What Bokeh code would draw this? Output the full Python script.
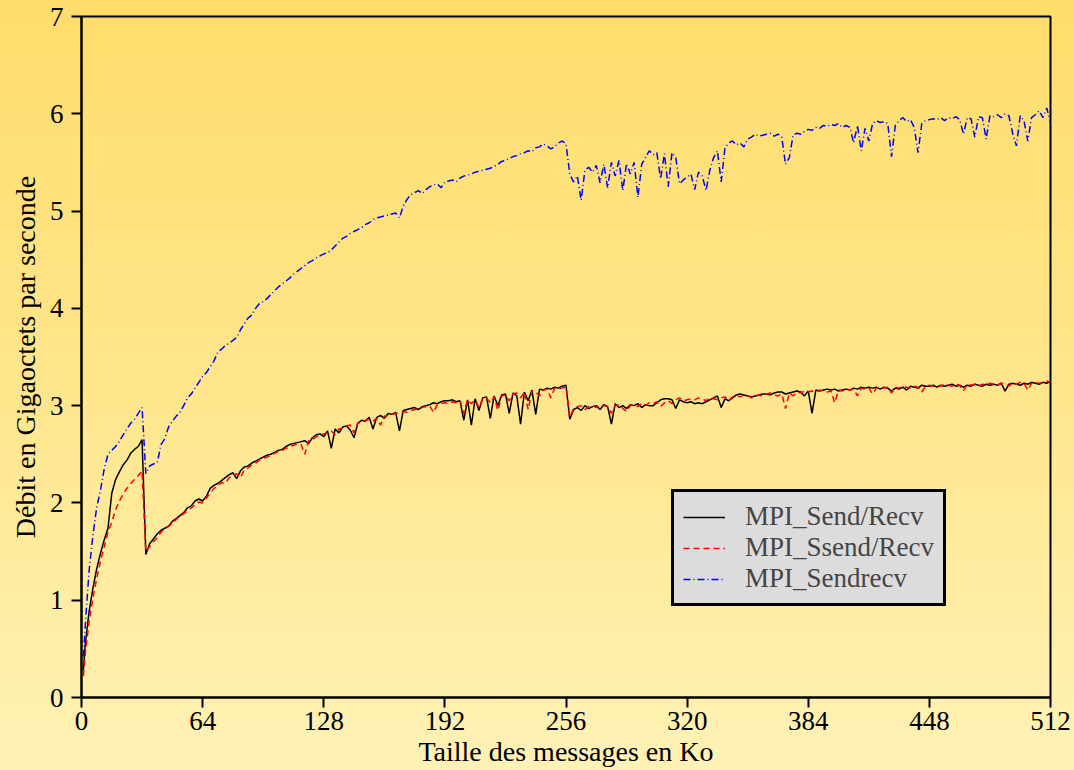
from bokeh.plotting import figure
from bokeh.models import Range1d, FixedTicker, Legend, LegendItem, ColumnDataSource
from bokeh.embed import file_html
from bokeh.resources import INLINE

# Message sizes (Ko)
sizes = [1] + list(range(2, 513, 2))

send_recv = [
    0.28,
    0.55, 0.88, 1.12, 1.32, 1.48, 1.62, 1.74, 2.10, 2.24, 2.32, 2.39, 2.44, 2.51, 2.55, 2.58, 2.65,
    1.47, 1.58, 1.63, 1.68, 1.72, 1.74, 1.76, 1.81, 1.84, 1.87, 1.90, 1.95, 1.97, 2.02, 2.04, 2.02,
    2.07, 2.15, 2.18, 2.20, 2.23, 2.26, 2.29, 2.31, 2.25, 2.33, 2.37, 2.38, 2.41, 2.43, 2.45, 2.47,
    2.49, 2.50, 2.52, 2.54, 2.55, 2.58, 2.60, 2.61, 2.62, 2.63, 2.64, 2.61, 2.67, 2.70, 2.71, 2.68,
    2.74, 2.56, 2.76, 2.72, 2.78, 2.79, 2.75, 2.67, 2.82, 2.85, 2.84, 2.88, 2.76, 2.88, 2.90, 2.87,
    2.92, 2.91, 2.93, 2.74, 2.95, 2.96, 2.97, 2.98, 2.96, 2.99, 3.00, 3.01, 3.03, 3.02, 3.04, 3.05,
    3.05, 3.06, 3.04, 3.05, 2.85, 3.06, 2.80, 3.07, 2.95, 3.08, 3.09, 2.87, 3.10, 3.00, 3.11, 3.12,
    2.92, 3.13, 3.10, 2.81, 3.14, 3.05, 3.16, 2.91, 3.17, 3.16, 3.18, 3.17, 3.19, 3.18, 3.20, 3.21,
    2.86, 2.96, 2.98, 2.95, 3.00, 2.97, 2.99, 3.00, 2.96, 3.01, 2.99, 2.81, 3.02, 2.98, 3.00, 2.97,
    3.01, 3.00, 3.02, 2.98, 3.01, 3.00, 3.00, 3.03, 3.06, 3.07, 3.07, 3.06, 2.97, 3.06, 3.04, 3.03,
    3.04, 3.02, 3.03, 3.02, 3.04, 3.06, 3.08, 3.10, 2.98, 3.07, 3.05, 3.08, 3.11, 3.12, 3.11, 3.10,
    3.09, 3.10, 3.11, 3.12, 3.12, 3.11, 3.13, 3.14, 3.14, 3.12, 3.13, 3.14, 3.15, 3.14, 3.10, 3.15,
    2.92, 3.16, 3.15, 3.16, 3.17, 3.16, 3.17, 3.15, 3.16, 3.17, 3.16, 3.18, 3.17, 3.19, 3.18, 3.19,
    3.18, 3.19, 3.17, 3.19, 3.18, 3.15, 3.18, 3.17, 3.19, 3.16, 3.20, 3.19, 3.18, 3.21, 3.20, 3.20,
    3.21, 3.19, 3.21, 3.20, 3.21, 3.22, 3.20, 3.21, 3.19, 3.21, 3.20, 3.22, 3.21, 3.20, 3.22, 3.21,
    3.22, 3.21, 3.23, 3.15, 3.22, 3.23, 3.22, 3.21, 3.23, 3.22, 3.24, 3.23, 3.22, 3.24, 3.23, 3.25,
]

ssend_recv = [
    0.22,
    0.45, 0.78, 1.02, 1.22, 1.40, 1.55, 1.70, 1.80, 1.93, 2.02, 2.09, 2.15, 2.20, 2.24, 2.28, 2.33,
    1.50, 1.55, 1.60, 1.64, 1.70, 1.73, 1.76, 1.79, 1.83, 1.86, 1.89, 1.92, 1.95, 1.98, 2.01, 2.00,
    2.05, 2.10, 2.15, 2.17, 2.21, 2.20, 2.26, 2.28, 2.30, 2.26, 2.34, 2.36, 2.39, 2.41, 2.44, 2.46,
    2.47, 2.49, 2.51, 2.53, 2.54, 2.56, 2.58, 2.59, 2.61, 2.60, 2.50, 2.64, 2.65, 2.68, 2.70, 2.71,
    2.72, 2.74, 2.70, 2.76, 2.77, 2.79, 2.80, 2.72, 2.82, 2.83, 2.85, 2.86, 2.84, 2.87, 2.80, 2.89,
    2.90, 2.91, 2.92, 2.93, 2.94, 2.93, 2.95, 2.96, 2.97, 2.98, 2.99, 3.00, 2.93, 3.01, 3.02, 3.03,
    3.02, 3.04, 3.03, 3.05, 2.92, 3.06, 3.02, 3.06, 2.98, 3.07, 3.08, 3.03, 3.09, 2.95, 3.10, 3.11,
    3.05, 3.12, 3.13, 3.08, 3.14, 2.96, 3.15, 3.14, 3.10, 3.16, 3.17, 3.08, 3.18, 3.17, 3.18, 3.19,
    2.88, 2.97, 2.99, 3.00, 2.96, 2.99, 3.00, 2.98, 3.01, 3.00, 2.99, 2.92, 3.00, 3.01, 2.97, 2.94,
    3.00, 3.01, 2.99, 3.02, 3.00, 3.03, 3.02, 3.04, 2.99, 3.03, 3.05, 3.02, 3.06, 3.08, 3.05, 3.06,
    3.07, 3.06, 3.08, 3.07, 3.05, 3.08, 3.07, 3.06, 3.08, 3.09, 3.05, 3.09, 3.10, 3.09, 3.11, 3.10,
    3.08, 3.10, 3.11, 3.10, 3.12, 3.13, 3.11, 3.10, 3.12, 2.97, 3.13, 3.10, 3.14, 3.13, 3.15, 3.14,
    3.15, 3.14, 3.16, 3.15, 3.14, 3.15, 3.03, 3.16, 3.15, 3.17, 3.16, 3.17, 3.10, 3.18, 3.17, 3.18,
    3.12, 3.18, 3.19, 3.18, 3.19, 3.13, 3.19, 3.18, 3.20, 3.19, 3.18, 3.20, 3.19, 3.14, 3.20, 3.21,
    3.20, 3.21, 3.20, 3.22, 3.21, 3.20, 3.22, 3.21, 3.15, 3.22, 3.21, 3.22, 3.20, 3.22, 3.21, 3.23,
    3.22, 3.21, 3.23, 3.22, 3.20, 3.23, 3.22, 3.24, 3.23, 3.16, 3.23, 3.24, 3.23, 3.24, 3.25, 3.24,
]

sendrecv = [
    0.42,
    0.75, 1.30, 1.66, 1.95, 2.13, 2.35, 2.50, 2.54, 2.58, 2.63, 2.70, 2.76, 2.82, 2.86, 2.92, 2.98,
    2.30, 2.38, 2.40, 2.41, 2.60, 2.66, 2.78, 2.84, 2.89, 2.93, 3.00, 3.08, 3.12, 3.18, 3.24, 3.30,
    3.34, 3.40, 3.46, 3.55, 3.58, 3.62, 3.64, 3.67, 3.70, 3.78, 3.84, 3.90, 3.93, 4.00, 4.05, 4.07,
    4.10, 4.14, 4.18, 4.22, 4.25, 4.28, 4.31, 4.35, 4.38, 4.41, 4.44, 4.47, 4.49, 4.52, 4.54, 4.56,
    4.57, 4.60, 4.64, 4.68, 4.72, 4.74, 4.77, 4.79, 4.81, 4.83, 4.86, 4.88, 4.91, 4.93, 4.94, 4.95,
    4.96, 4.97, 4.98, 4.93, 5.05, 5.12, 5.17, 5.19, 5.21, 5.18, 5.22, 5.25, 5.27, 5.28, 5.24, 5.30,
    5.31, 5.32, 5.30, 5.34, 5.36, 5.37, 5.38, 5.40, 5.41, 5.42, 5.43, 5.44, 5.46, 5.48, 5.51, 5.52,
    5.54, 5.56, 5.57, 5.59, 5.60, 5.62, 5.61, 5.65, 5.66, 5.69, 5.67, 5.64, 5.66, 5.70, 5.72, 5.69,
    5.38, 5.30, 5.36, 5.11, 5.42, 5.45, 5.40, 5.47, 5.29, 5.48, 5.24, 5.50, 5.36, 5.52, 5.21, 5.49,
    5.38, 5.50, 5.14, 5.48, 5.55, 5.62, 5.58, 5.60, 5.33, 5.59, 5.25, 5.60, 5.55, 5.28, 5.32, 5.35,
    5.38, 5.22, 5.40, 5.36, 5.21, 5.42, 5.55, 5.62, 5.30, 5.65, 5.70, 5.72, 5.68, 5.70, 5.66, 5.74,
    5.76, 5.79, 5.77, 5.78, 5.79, 5.80, 5.77, 5.79, 5.76, 5.48, 5.55, 5.78, 5.80, 5.79, 5.82, 5.84,
    5.83, 5.86, 5.85, 5.88, 5.87, 5.89, 5.88, 5.90, 5.86, 5.88, 5.86, 5.70, 5.88, 5.62, 5.85, 5.72,
    5.90, 5.93, 5.91, 5.92, 5.90, 5.56, 5.88, 5.93, 5.96, 5.92, 5.94, 5.86, 5.60, 5.90, 5.93, 5.94,
    5.95, 5.94, 5.96, 5.93, 5.96, 5.95, 5.97, 5.94, 5.79, 5.96, 5.95, 5.76, 5.97, 5.96, 5.74, 5.98,
    5.97, 5.99, 5.96, 6.00, 5.98, 5.80, 5.67, 5.98, 5.93, 5.72, 5.96, 5.99, 6.03, 5.96, 6.06, 5.91,
]

x_ticks = [0, 64, 128, 192, 256, 320, 384, 448, 512]
y_ticks = [0, 1, 2, 3, 4, 5, 6, 7]
labels = ["MPI_Send/Recv", "MPI_Ssend/Recv", "MPI_Sendrecv"]

FONT = "'Liberation Serif', 'Times New Roman', Times, serif"

p = figure(width=1074, height=770, output_backend="svg", toolbar_location=None,
           x_range=Range1d(0, 512), y_range=Range1d(0, 7),
           min_border_left=81, min_border_right=24, min_border_top=16, min_border_bottom=73)

p.background_fill_color = None
p.border_fill_color = None
p.styles = {"background": "linear-gradient(to bottom, #FFDD6C 0%, #FFE68C 50%, #FFF2B6 100%)"}

p.grid.visible = False
p.outline_line_color = "black"
p.outline_line_width = 2
p.outline_line_alpha = 1

src = ColumnDataSource(dict(x=sizes, a=send_recv, b=ssend_recv, c=sendrecv))
r1 = p.line("x", "a", source=src, line_color="black", line_width=1.5)
r2 = p.line("x", "b", source=src, line_color="#FF0000", line_width=1.5, line_dash="6 4")
r3 = p.line("x", "c", source=src, line_color="#0000FF", line_width=1.5, line_dash="7 3 1 3")

for ax in (p.xaxis[0], p.yaxis[0]):
    ax.axis_line_width = 2
    ax.major_tick_line_width = 2
    ax.major_tick_in = 0
    ax.major_tick_out = 10
    ax.minor_tick_line_color = None
    ax.major_label_text_font = FONT
    ax.major_label_text_font_size = "27px"
    ax.major_label_text_color = "black"
    ax.axis_label_text_font = FONT
    ax.axis_label_text_font_size = "28px"
    ax.axis_label_text_font_style = "normal"
    ax.axis_label_text_color = "black"

p.xaxis.ticker = FixedTicker(ticks=x_ticks)
p.yaxis.ticker = FixedTicker(ticks=y_ticks)
p.xaxis.axis_label = "Taille des messages en Ko"
p.yaxis.axis_label = "Débit en Gigaoctets par seconde"
p.xaxis.major_label_standoff = 4
p.xaxis.axis_label_standoff = 3
p.yaxis.major_label_standoff = 8
p.yaxis.axis_label_standoff = 6

legend = Legend(items=[LegendItem(label=labels[0], renderers=[r1]),
                       LegendItem(label=labels[1], renderers=[r2]),
                       LegendItem(label=labels[2], renderers=[r3])],
                location=(590, 91))
legend.background_fill_color = "#DCDCDC"
legend.background_fill_alpha = 1
legend.border_line_color = "black"
legend.border_line_alpha = 1
legend.border_line_width = 3
legend.label_text_font = FONT
legend.label_text_font_size = "27px"
legend.glyph_width = 42
legend.glyph_height = 26
legend.label_height = 26
legend.spacing = 0
legend.padding = 9
legend.margin = 0
legend.label_standoff = 20
p.add_layout(legend, "center")

open("out.html", "w").write(file_html(p, INLINE))
